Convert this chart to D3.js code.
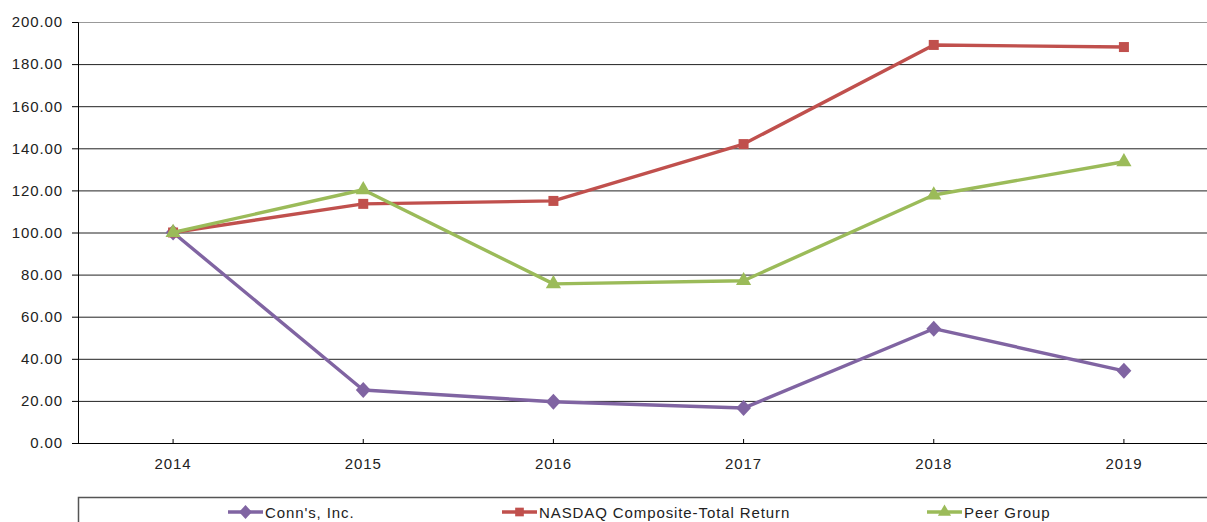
<!DOCTYPE html>
<html>
<head>
<meta charset="utf-8">
<script src="https://cdn.jsdelivr.net/npm/d3@7"></script>
<style>
  body { margin: 0; background: #fff; overflow: hidden; }
  text { font-family: "Liberation Sans", Arial, sans-serif; fill: #222; letter-spacing: 0.9px; }
</style>
</head>
<body>
<svg id="chart" width="1207" height="522"></svg>
<script>
const years = ['2014', '2015', '2016', '2017', '2018', '2019']
const conns = [100, 25.2, 19.6, 16.6, 54.3, 34.3]
const nasdaq = [100, 113.6, 115.0, 142.0, 189.1, 188.1]
const peer = [100, 120.3, 75.6, 77.1, 117.8, 133.6]
const yTicks = [0, 20, 40, 60, 80, 100, 120, 140, 160, 180, 200]

const series = [
  { name: "Conn's, Inc.", values: conns, color: '#8064a2', marker: d3.symbolDiamond, size: 75, sx: 1.6 },
  { name: 'NASDAQ Composite-Total Return', values: nasdaq, color: '#c0504d', marker: d3.symbolSquare, size: 100, sx: 1 },
  { name: 'Peer Group', values: peer, color: '#9bbb59', marker: d3.symbolTriangle, size: 100, sx: 1 }
]

const svg = d3.select('#chart')
const plotLeft = 78, plotRight = 1219, plotTop = 22, plotBottom = 443

const x = d3.scaleBand().domain(years).range([plotLeft, plotRight])
const y = d3.scaleLinear().domain([0, 200]).range([plotBottom, plotTop])

// grid lines
svg.append('g')
  .selectAll('line')
  .data(yTicks.slice(1))
  .enter()
  .append('line')
  .attr('x1', plotLeft).attr('x2', 1207)
  .attr('y1', d => y(d) + 0.5).attr('y2', d => y(d) + 0.5)
  .attr('stroke', d => d === 200 ? '#999' : '#222')
  .attr('stroke-width', 1)

// y axis
const yAxis = svg.append('g')
  .attr('transform', `translate(${plotLeft},0)`)
  .call(d3.axisLeft(y).tickValues(yTicks).tickFormat(d3.format('.2f')).tickSize(6).tickPadding(9))
yAxis.select('.domain').attr('stroke', '#000')
yAxis.selectAll('.tick line').attr('stroke', '#000')
yAxis.selectAll('text').style('font-size', '15px').attr('fill', '#222')

// x axis
const xAxis = svg.append('g')
  .attr('transform', `translate(0,${plotBottom})`)
  .call(d3.axisBottom(x).tickSize(-4).tickPadding(15).tickSizeOuter(0))
xAxis.select('.domain').attr('stroke', '#000').attr('d', `M${plotLeft},0.5H1207`)
xAxis.selectAll('.tick line').attr('stroke', '#000')
xAxis.selectAll('text').style('font-size', '15px').attr('fill', '#222')

const cx = d => x(d) + x.bandwidth() / 2
const line = d3.line()
  .x((d, i) => cx(years[i]))
  .y(d => y(d))

series.forEach(s => {
  svg.append('path')
    .datum(s.values)
    .attr('d', line)
    .attr('fill', 'none')
    .attr('stroke', s.color)
    .attr('stroke-width', 3.4)
    .attr('stroke-linejoin', 'round')

  svg.append('g')
    .selectAll('path')
    .data(s.values)
    .enter()
    .append('path')
    .attr('d', d3.symbol().type(s.marker).size(s.size))
    .attr('transform', (d, i) => `translate(${cx(years[i])},${y(d)}) scale(${s.sx},1)`)
    .attr('fill', s.color)
})

// legend
svg.append('rect')
  .attr('x', 78.5).attr('y', 497.5)
  .attr('width', 1150).attr('height', 40)
  .attr('fill', 'none')
  .attr('stroke', '#555')
  .attr('stroke-width', 1.5)

const legendX = [228, 502, 927]
series.forEach((s, i) => {
  const g = svg.append('g').attr('transform', `translate(${legendX[i]},512)`)
  g.append('line')
    .attr('x1', 0).attr('x2', 35)
    .attr('stroke', s.color).attr('stroke-width', 3.4)
  g.append('path')
    .attr('d', d3.symbol().type(s.marker).size(s.size * 0.75))
    .attr('transform', `translate(17.5,0) scale(${s.sx},1)`)
    .attr('fill', s.color)
  g.append('text')
    .attr('x', 37).attr('y', 5.5)
    .style('font-size', '15px')
    .text(s.name)
})
</script>
</body>
</html>
